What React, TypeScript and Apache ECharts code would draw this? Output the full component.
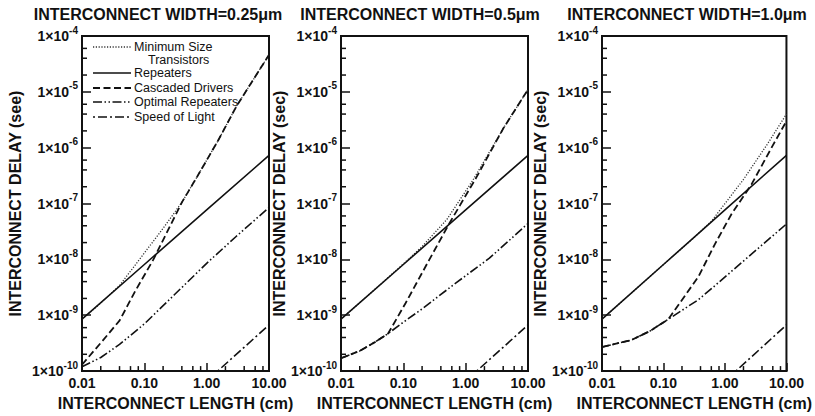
import React, { useEffect, useRef } from 'react';
import * as echarts from 'echarts';

// ---------- data ----------
const widths = ['0.25', '0.5', '1.0'];
const seriesNames = ['Minimum Size Transistors', 'Repeaters', 'Cascaded Drivers', 'Optimal Repeaters', 'Speed of Light'];
const yAxisNames = ['INTERCONNECT DELAY (see)', 'INTERCONNECT DELAY (sec)', 'INTERCONNECT DELAY (sec)'];
const xAxisName = 'INTERCONNECT LENGTH (cm)';
const xTickLabels = ['0.01', '0.10', '1.00', '10.00'];
const yTickExponents = ['-10', '-9', '-8', '-7', '-6', '-5', '-4'];
const xMinorTicks = [0.02, 0.04, 0.06, 0.08, 0.2, 0.4, 0.6, 0.8, 2, 4, 6, 8];
const yMinorTicks = [2e-10, 4e-10, 6e-10, 2e-9, 4e-9, 6e-9, 2e-8, 4e-8, 6e-8, 2e-7, 4e-7, 6e-7, 2e-6, 4e-6, 6e-6, 2e-5, 4e-5, 6e-5];

// width 0.25 um
const minSize025 = [[0.01, 8.5e-10], [0.02, 1.65e-9], [0.04, 3.4e-9], [0.1, 1.3e-8], [0.2, 3.6e-8], [0.4, 1.05e-7], [0.7, 3.0e-7], [1.5, 1.3e-6], [3, 5.5e-6], [10, 4.6e-5]];
const repeaters025 = [[0.01, 8.5e-10], [0.1, 8.1e-9], [1, 7.7e-8], [10, 7.3e-7]];
const cascaded025 = [[0.01, 1.3e-10], [0.02, 3.2e-10], [0.04, 8e-10], [0.07, 2.6e-9], [0.14, 1e-8], [0.4, 1.05e-7], [0.7, 3.0e-7], [1.5, 1.3e-6], [3, 5.5e-6], [10, 4.6e-5]];
const optimal025 = [[0.01, 1.2e-10], [0.02, 1.75e-10], [0.04, 3e-10], [0.1, 7e-10], [0.3, 2.3e-9], [1, 8.5e-9], [3, 2.6e-8], [10, 8.5e-8]];

// width 0.5 um
const minSize05 = [[0.01, 8.5e-10], [0.03, 2.5e-9], [0.1, 8.3e-9], [0.2, 1.7e-8], [0.5, 5.2e-8], [1.3, 2.6e-7], [4, 2.2e-6], [10, 1.1e-5]];
const repeaters05 = [[0.01, 8.5e-10], [0.1, 8.1e-9], [1, 7.7e-8], [10, 7.3e-7]];
const cascaded05 = [[0.01, 1.7e-10], [0.02, 2.3e-10], [0.035, 3.3e-10], [0.057, 4.7e-10], [0.109, 1.66e-9], [0.26, 9.8e-9], [0.54, 4.3e-8], [1.5, 3.0e-7], [4, 2.2e-6], [10, 1.1e-5]];
const optimal05 = [[0.01, 1.7e-10], [0.02, 2.3e-10], [0.035, 3.3e-10], [0.057, 4.7e-10], [0.1, 7.5e-10], [0.2, 1.3e-9], [0.7, 3.8e-9], [2.4, 1.05e-8], [10, 4.4e-8]];

// width 1.0 um
const minSize10 = [[0.01, 8.5e-10], [0.1, 8.1e-9], [0.3, 2.35e-8], [0.6, 4.8e-8], [1, 1.0e-7], [2, 2.7e-7], [5, 1.2e-6], [10, 4e-6]];
const repeaters10 = [[0.01, 8.5e-10], [0.1, 8.1e-9], [1, 7.7e-8], [10, 7.3e-7]];
const cascaded10 = [[0.01, 2.7e-10], [0.03, 3.6e-10], [0.06, 5.2e-10], [0.12, 8.5e-10], [0.37, 4.9e-9], [0.69, 1.9e-8], [1.28, 6.5e-8], [2.7, 2.2e-7], [6, 1.1e-6], [10, 3e-6]];
const optimal10 = [[0.01, 2.7e-10], [0.03, 3.6e-10], [0.06, 5.2e-10], [0.12, 8.5e-10], [0.37, 1.9e-9], [0.69, 3.4e-9], [2.37, 1.1e-8], [10, 4.3e-8]];

// same in all panels
const speedOfLight = [[1.5, 1e-10], [10, 6.7e-10]];

const panelData = [
  [minSize025, repeaters025, cascaded025, optimal025, speedOfLight],
  [minSize05, repeaters05, cascaded05, optimal05, speedOfLight],
  [minSize10, repeaters10, cascaded10, optimal10, speedOfLight],
];

// ---------- styles ----------
const FONT = '"Liberation Sans", Arial, Helvetica, sans-serif';
const INK = '#111';
const lineStyles: any[] = [
  { color: '#333', width: 1.3, type: [1.2, 1.6] },
  { color: INK, width: 1.6, type: 'solid' },
  { color: INK, width: 1.8, type: [7, 3.5] },
  { color: INK, width: 1.6, type: [9, 2.5, 1.5, 2.5, 1.5, 2.5] },
  { color: INK, width: 1.6, type: [2, 3, 9, 3] },
];
const layout = [
  { left: 82, titleCenter: 158, yNameGap: 59 },
  { left: 341, titleCenter: 420, yNameGap: 50 },
  { left: 602, titleCenter: 687, yNameGap: 49 },
];
const GRID_W = 187;
const GRID_TOP = 36;
const GRID_BOTTOM = 40;

export default function App() {
  const ref = useRef<HTMLDivElement>(null);
  useEffect(() => {
    if (!ref.current) return;
    const chart = echarts.init(ref.current, undefined, { renderer: 'svg' });

    const grids: any[] = [];
    const xAxes: any[] = [];
    const yAxes: any[] = [];
    const series: any[] = [];
    const graphic: any[] = [];

    layout.forEach((L, gi) => {
      grids.push({
        left: L.left, top: GRID_TOP, width: GRID_W, bottom: GRID_BOTTOM,
        show: true, borderColor: INK, borderWidth: 2, backgroundColor: 'transparent',
      });
      graphic.push({
        type: 'text', x: L.titleCenter, y: 14, silent: true,
        style: {
          text: `INTERCONNECT WIDTH=${widths[gi]}μm`, fill: INK, fontFamily: FONT,
          fontSize: 16, fontWeight: 'bold', align: 'center', verticalAlign: 'middle',
        },
      });
      xAxes.push({
        type: 'log', logBase: 10, gridIndex: gi, min: 0.01, max: 10,
        axisLine: { show: true, onZero: false, lineStyle: { color: INK, width: 2 } },
        axisTick: { show: true, inside: true, length: 8, lineStyle: { color: INK, width: 1.5 } },
        splitLine: { show: false },
        axisLabel: {
          margin: 5, color: INK, fontFamily: FONT, fontSize: 14, fontWeight: 'bold',
          formatter: (v: number) => xTickLabels[Math.round(Math.log10(v)) + 2] ?? '',
        },
        name: xAxisName, nameLocation: 'middle', nameGap: 19,
        nameTextStyle: { fontFamily: FONT, fontSize: 16, fontWeight: 'bold', color: INK },
      });
      yAxes.push({
        type: 'log', logBase: 10, gridIndex: gi, min: 1e-10, max: 1e-4,
        axisLine: { show: true, onZero: false, lineStyle: { color: INK, width: 2 } },
        axisTick: { show: true, inside: true, length: 9, lineStyle: { color: INK, width: 1.5 } },
        splitLine: { show: false },
        axisLabel: {
          margin: 4,
          formatter: (v: number) => `{a|1×10}{b|${yTickExponents[Math.round(Math.log10(v)) + 10] ?? ''}}`,
          rich: {
            a: { fontFamily: FONT, fontSize: 14, fontWeight: 'bold', color: INK },
            b: { fontFamily: FONT, fontSize: 10, fontWeight: 'bold', color: INK, padding: [0, 0, 12, 0] },
          },
        },
        name: yAxisNames[gi], nameLocation: 'middle', nameGap: L.yNameGap,
        nameTextStyle: { fontFamily: FONT, fontSize: 16, fontWeight: 'bold', color: INK },
      });

      panelData[gi].forEach((d, si) => {
        series.push({
          type: 'line', name: seriesNames[si], xAxisIndex: gi, yAxisIndex: gi,
          data: d, showSymbol: false, symbol: 'none',
          lineStyle: lineStyles[si], z: 3, silent: true,
        });
      });

      const tickData = [
        ...yMinorTicks.map((v) => [0.01, v, 0]),
        ...xMinorTicks.map((v) => [v, 1e-10, 1]),
      ];
      series.push({
        type: 'custom', xAxisIndex: gi, yAxisIndex: gi, silent: true, clip: false, z: 4,
        data: tickData, encode: { x: 0, y: 1 },
        renderItem: (_p: any, api: any) => {
          const p = api.coord([api.value(0), api.value(1)]);
          const k = api.value(2);
          return {
            type: 'line',
            shape: k === 0
              ? { x1: p[0], y1: p[1], x2: p[0] + 5, y2: p[1] }
              : { x1: p[0], y1: p[1], x2: p[0], y2: p[1] - 5 },
            style: { stroke: INK, lineWidth: 1.5 },
          };
        },
      });
    });

    // legend drawn in panel 1
    const legendRows = [
      { idx: 0, y: 47, lines: ['Minimum Size', 'Transistors'] },
      { idx: 1, y: 73, lines: ['Repeaters'] },
      { idx: 2, y: 88, lines: ['Cascaded Drivers'] },
      { idx: 3, y: 102, lines: ['Optimal Repeaters'] },
      { idx: 4, y: 117, lines: ['Speed of Light'] },
    ];
    legendRows.forEach((r) => {
      const ls = lineStyles[r.idx];
      graphic.push({
        type: 'line', silent: true,
        shape: { x1: 93, y1: r.y, x2: 131, y2: r.y },
        style: { stroke: ls.color, lineWidth: ls.width, lineDash: Array.isArray(ls.type) ? ls.type : null },
      });
      graphic.push({
        type: 'text', x: 134, y: r.y, silent: true,
        style: { text: r.lines[0], fill: INK, fontFamily: FONT, fontSize: 12.5, lineHeight: 12, align: 'left', verticalAlign: 'middle' },
      });
      if (r.lines[1]) {
        graphic.push({
          type: 'text', x: 148, y: r.y + 12.5, silent: true,
          style: { text: r.lines[1], fill: INK, fontFamily: FONT, fontSize: 12.5, lineHeight: 12, align: 'left', verticalAlign: 'middle' },
        });
      }
    });

    chart.setOption({
      animation: false,
      backgroundColor: '#fff',
      grid: grids,
      xAxis: xAxes,
      yAxis: yAxes,
      series,
      graphic,
    });
    return () => chart.dispose();
  }, []);

  return (
    <div
      ref={ref}
      style={{ position: 'fixed', left: 0, top: 0, width: 815, height: 416, background: '#fff' }}
    />
  );
}
